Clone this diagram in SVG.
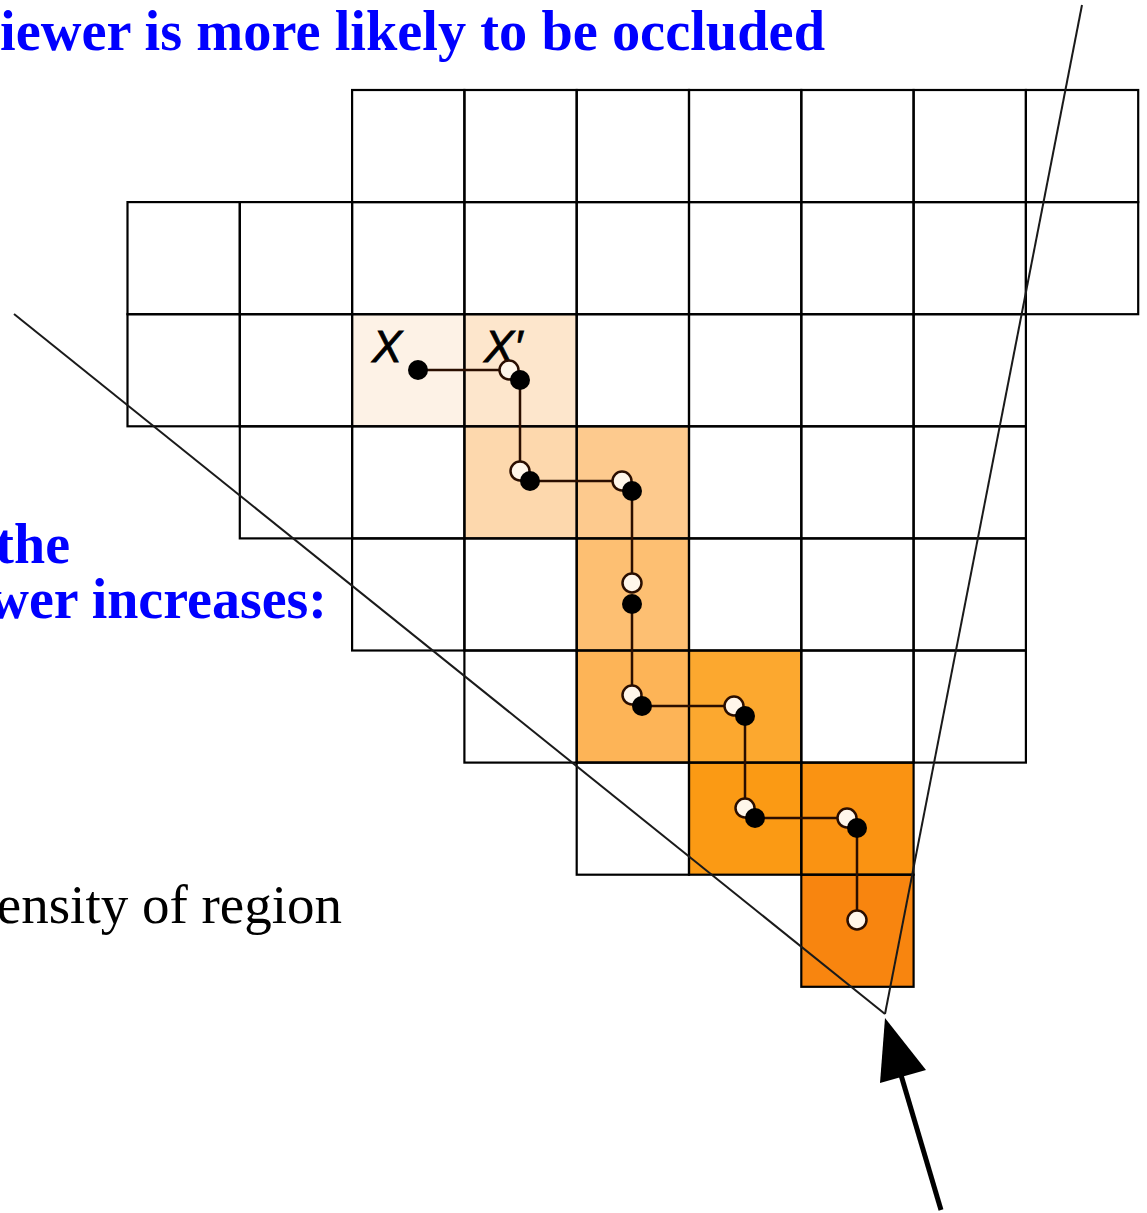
<svg xmlns="http://www.w3.org/2000/svg" width="1147" height="1213" viewBox="0 0 1147 1213">
<defs>
<style>
.c{fill:none;stroke:#000;stroke-width:2.2}
.sh{stroke:none}
.sight{stroke:#1a1a1a;stroke-width:2;fill:none}
.path{stroke:#2a0e00;stroke-width:2.5;fill:none}
.open{fill:#fff6ea;stroke:#2a0e00;stroke-width:2.5}
.dot{fill:#000}
.blue{font-family:"Liberation Serif",serif;font-weight:bold;font-size:56px;fill:#0000ff}
.black{font-family:"Liberation Serif",serif;font-size:55px;fill:#000}
.lbl{font-family:"Liberation Sans",Arial,sans-serif;font-style:italic;font-size:45px;fill:#000;stroke:#000;stroke-width:0.8}
</style>
</defs>
<rect width="1147" height="1213" fill="#fff"/>
<g id="texts">
<text class="blue" x="0" y="50" textLength="825" lengthAdjust="spacingAndGlyphs">iewer is more likely to be occluded</text>
<text class="blue" x="70" y="563" text-anchor="end">the</text>
<text class="blue" x="327" y="618" text-anchor="end">wer increases:</text>
<text class="black" x="342" y="923" text-anchor="end">ensity of region</text>
</g>
<g id="shading">
<rect class="sh" x="352.1" y="314.2" width="112.3" height="112.1" fill="#fdf2e6"/>
<rect class="sh" x="464.4" y="314.2" width="112.3" height="112.1" fill="#fde6cc"/>
<rect class="sh" x="464.4" y="426.3" width="112.3" height="112.1" fill="#fdd8ad"/>
<rect class="sh" x="576.7" y="426.3" width="112.3" height="112.1" fill="#fdca8e"/>
<rect class="sh" x="576.7" y="538.4" width="112.3" height="112.1" fill="#fdbf72"/>
<rect class="sh" x="576.7" y="650.5" width="112.3" height="112.1" fill="#fdb457"/>
<rect class="sh" x="689" y="650.5" width="112.3" height="112.1" fill="#fca82f"/>
<rect class="sh" x="689" y="762.6" width="112.3" height="112.1" fill="#fb9a14"/>
<rect class="sh" x="801.3" y="762.6" width="112.3" height="112.1" fill="#fa9312"/>
<rect class="sh" x="801.3" y="874.7" width="112.3" height="112.1" fill="#f8850f"/>
</g>
<g id="grid">
<rect class="c" x="352.1" y="90" width="112.3" height="112.1"/>
<rect class="c" x="464.4" y="90" width="112.3" height="112.1"/>
<rect class="c" x="576.7" y="90" width="112.3" height="112.1"/>
<rect class="c" x="689" y="90" width="112.3" height="112.1"/>
<rect class="c" x="801.3" y="90" width="112.3" height="112.1"/>
<rect class="c" x="913.6" y="90" width="112.3" height="112.1"/>
<rect class="c" x="1025.9" y="90" width="112.3" height="112.1"/>
<rect class="c" x="127.5" y="202.1" width="112.3" height="112.1"/>
<rect class="c" x="239.8" y="202.1" width="112.3" height="112.1"/>
<rect class="c" x="352.1" y="202.1" width="112.3" height="112.1"/>
<rect class="c" x="464.4" y="202.1" width="112.3" height="112.1"/>
<rect class="c" x="576.7" y="202.1" width="112.3" height="112.1"/>
<rect class="c" x="689" y="202.1" width="112.3" height="112.1"/>
<rect class="c" x="801.3" y="202.1" width="112.3" height="112.1"/>
<rect class="c" x="913.6" y="202.1" width="112.3" height="112.1"/>
<rect class="c" x="1025.9" y="202.1" width="112.3" height="112.1"/>
<rect class="c" x="127.5" y="314.2" width="112.3" height="112.1"/>
<rect class="c" x="239.8" y="314.2" width="112.3" height="112.1"/>
<rect class="c" x="352.1" y="314.2" width="112.3" height="112.1"/>
<rect class="c" x="464.4" y="314.2" width="112.3" height="112.1"/>
<rect class="c" x="576.7" y="314.2" width="112.3" height="112.1"/>
<rect class="c" x="689" y="314.2" width="112.3" height="112.1"/>
<rect class="c" x="801.3" y="314.2" width="112.3" height="112.1"/>
<rect class="c" x="913.6" y="314.2" width="112.3" height="112.1"/>
<rect class="c" x="239.8" y="426.3" width="112.3" height="112.1"/>
<rect class="c" x="352.1" y="426.3" width="112.3" height="112.1"/>
<rect class="c" x="464.4" y="426.3" width="112.3" height="112.1"/>
<rect class="c" x="576.7" y="426.3" width="112.3" height="112.1"/>
<rect class="c" x="689" y="426.3" width="112.3" height="112.1"/>
<rect class="c" x="801.3" y="426.3" width="112.3" height="112.1"/>
<rect class="c" x="913.6" y="426.3" width="112.3" height="112.1"/>
<rect class="c" x="352.1" y="538.4" width="112.3" height="112.1"/>
<rect class="c" x="464.4" y="538.4" width="112.3" height="112.1"/>
<rect class="c" x="576.7" y="538.4" width="112.3" height="112.1"/>
<rect class="c" x="689" y="538.4" width="112.3" height="112.1"/>
<rect class="c" x="801.3" y="538.4" width="112.3" height="112.1"/>
<rect class="c" x="913.6" y="538.4" width="112.3" height="112.1"/>
<rect class="c" x="464.4" y="650.5" width="112.3" height="112.1"/>
<rect class="c" x="576.7" y="650.5" width="112.3" height="112.1"/>
<rect class="c" x="689" y="650.5" width="112.3" height="112.1"/>
<rect class="c" x="801.3" y="650.5" width="112.3" height="112.1"/>
<rect class="c" x="913.6" y="650.5" width="112.3" height="112.1"/>
<rect class="c" x="576.7" y="762.6" width="112.3" height="112.1"/>
<rect class="c" x="689" y="762.6" width="112.3" height="112.1"/>
<rect class="c" x="801.3" y="762.6" width="112.3" height="112.1"/>
<rect class="c" x="801.3" y="874.7" width="112.3" height="112.1"/>
</g>
<g id="sightlines">
<line class="sight" x1="14" y1="314" x2="885" y2="1014"/>
<line class="sight" x1="1082" y1="5" x2="885" y2="1014"/>
</g>
<g id="labels">
<text class="lbl" x="372" y="362">X</text>
<text class="lbl" x="484" y="362">X′</text>
</g>
<g id="connectors">
<path class="path" d="M418,370H509 M520,380V471 M530,481H622 M632,491V583 M632,604V695 M642,706H734 M745,716V808 M755,818H847 M857,828V920"/>
</g>
<g id="open-points">
<circle class="open" cx="509" cy="370" r="9.5"/>
<circle class="open" cx="520" cy="471" r="9.5"/>
<circle class="open" cx="622" cy="481" r="9.5"/>
<circle class="open" cx="632" cy="583" r="9.5"/>
<circle class="open" cx="632" cy="695" r="9.5"/>
<circle class="open" cx="734" cy="706" r="9.5"/>
<circle class="open" cx="745" cy="808" r="9.5"/>
<circle class="open" cx="847" cy="818" r="9.5"/>
<circle class="open" cx="857" cy="920" r="9.5"/>
</g>
<g id="solid-points">
<circle class="dot" cx="418" cy="370" r="10"/>
<circle class="dot" cx="520" cy="380" r="10"/>
<circle class="dot" cx="530" cy="481" r="10"/>
<circle class="dot" cx="632" cy="491" r="10"/>
<circle class="dot" cx="632" cy="604" r="10"/>
<circle class="dot" cx="642" cy="706" r="10"/>
<circle class="dot" cx="745" cy="716" r="10"/>
<circle class="dot" cx="755" cy="818" r="10"/>
<circle class="dot" cx="857" cy="828" r="10"/>
</g>
<g id="viewer-arrow">
<line x1="941" y1="1210" x2="901" y2="1075" stroke="#000" stroke-width="5"/>
<polygon points="885,1018 880,1083 926,1070" fill="#000"/>
</g>
</svg>
